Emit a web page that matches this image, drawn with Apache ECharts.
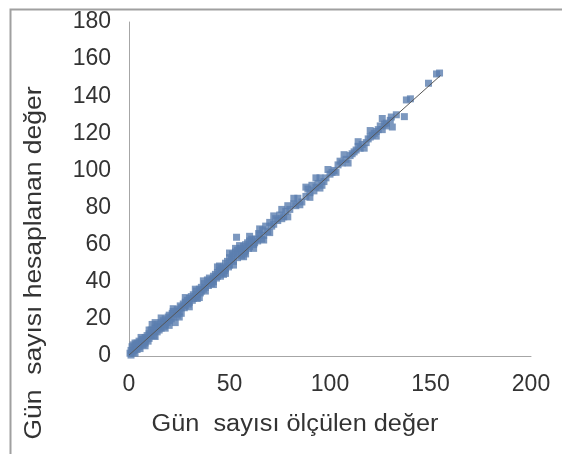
<!DOCTYPE html>
<html>
<head>
<meta charset="utf-8">
<script src="https://cdn.jsdelivr.net/npm/echarts@6/dist/echarts.min.js"></script>
<style>
html,body{margin:0;padding:0;background:#fff;}
#c{width:562px;height:454px;}
</style>
</head>
<body>
<div id="c"></div>
<script>
// Measured values (x) and computed values (y) of day counts
var measuredX = [0.5,1,1,1.5,2,2,2.5,3,3,3.5,4,4,5,5,5.5,6,6.5,7,7,8,8,8.5,9,9.5,10,10,11,11,11.5,12,12.5,13,13,14,14,14.5,15,15.5,16,16,17,17.5,18,18,19,19.5,20,20,21,21.5,22,22,23,23.5,24,24,25,25.5,26,26,27,27.5,28,28,29,29.5,30,30,31,31.5,32,32,33,33.5,34,34,35,35.5,36,36,37,37.5,38,38,39,39.5,40,40,41,41.5,42,42,43,43.5,44,44,45,45.5,46,46,47,47.5,48,48,49,49.5,50,50,51,51.5,52,52,53,53.5,54,54,55,55.5,56,56,57,57.5,58,58,59,59.5,60,60,61,62,62.5,63,64,64.5,65,66,66.5,67,68,69,70,71,72,73,74,75,76,77,78,79,80,82,83,84,86,88,89,90,91,92,93,94,95,96,97,98,100,101,102,104,105,106,108,110,111,112,113,114,115,116,118,119,120,121,122,123,124,125,126,127,128,130,130.5,131,133,137,138,140,149,153,154.5,
  42,45,47,50,52,55,57,60,62,65,67,70,72,76,79,82,85,88,90,93,95,99,103,107,109,114,117,120,123,126,128,20,22,25,28,30,33,35,37,10,13,6,8,16,18,3,44,48,53,58];
var computedY = [1.5,3,0.5,5,2,6,3,4.5,1.5,6,3.5,7,5,8,4,7,9,6,8,10,7,9,11,8,12,9.5,14,11,17,13,11,15,18,13,16,17,14,16,18,15,19,16,20,17,18,21,22,19,20,23,21,24,18,23,25,22,24,27,26,23,28,26,29,27,30,28,31,29,32,30,33,31,32,35,33,31,36,34,37,35,36,39,37,35,41,38,40,42,39,41,43,40,44,42,45,43,46,43,47,45,48,46,50,47,51,48,53,49,52,55,51,54,56,64,53,57,55,58,54,57,59,56,60,57,61,58,59,62,63,60,61,63,62,66,65,63,68,65,70,67,72,70,71,74,73,76,74,75,78,81,79,82,81,85,83,86,90,88,92,89,91,93,96,92,94,96,98,99,100,103,105,104,106,108,109,110,111,113,112,114,115,117,118,119,120,121,122,124,122,125,124,127,128.8,123.4,130,129,138,138.6,147,152,152.5,
  38.5,48.5,44,55.5,49,59.5,53.5,64.5,58,68.5,62.5,66.5,75.5,79,75,85,81.5,91,85.5,96,90.5,100.5,99,108.5,104,115.5,112,121.5,118.5,128,125.5,16.5,25.5,21,31.5,26.5,36,31.5,40.5,14,10.5,10,5.5,20.5,15,7,48,44.5,58,55];
// Trend line end points
var trendX = [0, 155];
var trendY = [0.5, 151.2];

var xTicks = [0, 50, 100, 150, 200];
var yTicks = [0, 20, 40, 60, 80, 100, 120, 140, 160, 180];

var xName = 'Gün  sayısı ölçülen değer';
var yName = 'Gün  sayısı hesaplanan değer';

var points = measuredX.map(function (x, i) { return [x, computedY[i]]; });
var trend = trendX.map(function (x, i) { return [x, trendY[i]]; });

var chart = echarts.init(document.getElementById('c'), null, {renderer: 'canvas'});
var font = 'Liberation Sans, Arial, sans-serif';
chart.setOption({
  animation: false,
  backgroundColor: '#ffffff',
  grid: {left: 129, right: 31, top: 22, bottom: 98},
  xAxis: {
    type: 'value', min: xTicks[0], max: xTicks[xTicks.length - 1], interval: 50,
    axisLine: {show: true, lineStyle: {color: '#a6a6a6', width: 1}},
    axisTick: {show: false}, splitLine: {show: false},
    axisLabel: {color: '#333333', fontSize: 23, fontFamily: font, margin: 17}
  },
  yAxis: {
    type: 'value', min: yTicks[0], max: yTicks[yTicks.length - 1], interval: 20,
    axisLine: {show: true, lineStyle: {color: '#a6a6a6', width: 1}},
    axisTick: {show: false}, splitLine: {show: false},
    axisLabel: {color: '#333333', fontSize: 23, fontFamily: font, margin: 18}
  },
  graphic: [
    {type: 'rect', left: 8, top: 7, shape: {width: 600, height: 500},
     style: {fill: 'none', stroke: '#a0a0a0', lineWidth: 2}, silent: true},
    {type: 'text', x: 295, y: 425, scaleX: 1.1,
     style: {text: xName, fill: '#333333', font: '23px ' + font, textAlign: 'center', textVerticalAlign: 'middle'}},
    {type: 'text', x: 35, y: 263, rotation: Math.PI / 2, scaleX: 1.15,
     style: {text: yName, fill: '#333333', font: '23px ' + font, textAlign: 'center', textVerticalAlign: 'middle'}}
  ],
  series: [
    {type: 'scatter', data: points, symbol: 'rect', symbolSize: 7,
     itemStyle: {color: '#5b7eaf'}, z: 2},
    {type: 'line', data: trend, symbol: 'none', lineStyle: {color: '#555555', width: 1}, z: 3}
  ]
});
</script>
</body>
</html>
